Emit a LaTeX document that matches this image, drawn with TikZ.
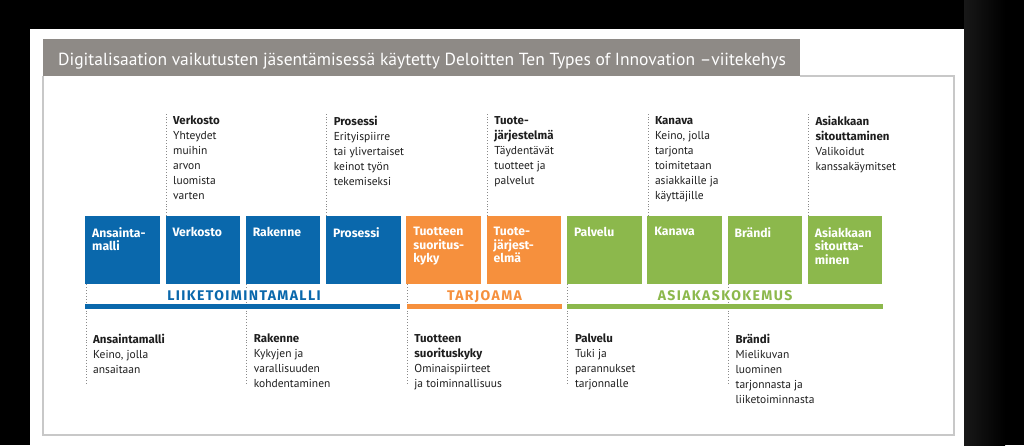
\documentclass[tikz,border=0pt]{standalone}
\usepackage{fontspec}
\setmainfont{PT Sans}
\newfontfamily\fira{Fira Sans}
\definecolor{dblue}{HTML}{0A68AC}
\definecolor{dorange}{HTML}{F6903D}
\definecolor{dgreen}{HTML}{8CB84C}
\definecolor{titlegray}{HTML}{8E8A86}
\definecolor{framegray}{HTML}{C8C8C8}
\definecolor{dotgray}{HTML}{8A8A8A}
\definecolor{txt}{HTML}{1E1E1E}
\newcommand{\hd}[1]{{\fira\bfseries #1}}
\begin{document}
\begin{tikzpicture}[x=1pt,y=-1pt,
  boxst/.style={draw=none,anchor=north west,minimum width=74.5pt,minimum height=68pt,inner sep=0pt},
  boxlbl/.style={anchor=north west,inner sep=0pt,align=left,text=white,font=\fontsize{12.2}{13.6}\selectfont\fira\bfseries},
  desc/.style={anchor=north west,inner sep=0pt,align=left,text=txt,font=\fontsize{11.5}{15}\selectfont},
  dotline/.style={draw=dotgray,dotted,line width=0.9pt},
  catlbl/.style={fill=white,inner sep=1.5pt,anchor=base,font=\fontsize{14}{16}\selectfont\fira\bfseries\addfontfeature{LetterSpace=10}},
  bar/.style={draw=none,anchor=north west,minimum height=5pt,inner sep=0pt}
]
\useasboundingbox (0,0) rectangle (1024,445);
% background
\fill[black] (0,0) rectangle (1024,445);
\shade[left color={rgb,255:red,24;green,24;blue,24}, right color=black] (964,0) rectangle (1005,445);
\fill[white] (30,29) rectangle (964,445);
% frame and title
\draw[framegray,line width=1.2pt] (43,76) -- (43,435) -- (954,435) -- (954,76) -- (800,76);
\node[fill=titlegray,anchor=north west,minimum width=757pt,minimum height=37pt,inner sep=0pt] (title) at (43,39) {};
\node[anchor=base west,inner sep=0pt,text=white,font=\fontsize{17.5}{20}\selectfont] (titletxt) at (58,65)
  {Digitalisaation vaikutusten jäsentämisessä käytetty Deloitten Ten Types of Innovation –viitekehys};
% boxes
\foreach \i/\c in {1/dblue,2/dblue,3/dblue,4/dblue,5/dorange,6/dorange,7/dgreen,8/dgreen,9/dgreen,10/dgreen}{
  \node[boxst,fill=\c] (b\i) at ({85+80.3*(\i-1)},216) {};
}
% dotted lines top
\foreach \i in {2,4,6,8,10}{
  \coordinate (t\i) at ({86+80.3*(\i-1)},113);
  \draw[dotline] ([xshift=1pt]b\i.north west) -- (t\i);
}
% dotted lines bottom
\foreach \i in {1,3,5,7,9}{
  \coordinate (u\i) at ({86+80.3*(\i-1)},385);
  \draw[dotline] ([xshift=1pt]b\i.south west) -- (u\i);
}
% box labels
\foreach \i/\t in {1/{Ansainta-\\malli},2/{Verkosto},3/{Rakenne},4/{Prosessi},5/{Tuotteen\\suoritus-\\kyky},
  6/{Tuote-\\järjest-\\elmä},7/{Palvelu},8/{Kanava},9/{Brändi},10/{Asiakkaan\\sitoutta-\\minen}}{
  \node[boxlbl] (l\i) at ([shift={(7,11)}]b\i.north west) {\t};
}
% category labels and bars
\node[catlbl,text=dblue] (cat1) at (244,300) {LIIKETOIMINTAMALLI};
\node[catlbl,text=dorange] (cat2) at (484.5,300) {TARJOAMA};
\node[catlbl,text=dgreen] (cat3) at (725,300) {ASIAKASKOKEMUS};
\node[bar,fill=dblue,minimum width=315pt] (bar1) at (85,304) {};
\node[bar,fill=dorange,minimum width=155pt] (bar2) at (407,304) {};
\node[bar,fill=dgreen,minimum width=316pt] (bar3) at (567,304) {};
% top descriptions
\node[desc] (d2) at (173,116) {\hd{Verkosto}\\Yhteydet\\muihin\\arvon\\luomista\\varten};
\node[desc] (d4) at (333.6,116) {\hd{Prosessi}\\Erityispiirre\\tai ylivertaiset\\keinot työn\\tekemiseksi};
\node[desc] (d6) at (494.2,116) {\hd{Tuote-}\\\hd{järjestelmä}\\Täydentävät\\tuotteet ja\\palvelut};
\node[desc] (d8) at (654.8,116) {\hd{Kanava}\\Keino, jolla\\tarjonta\\toimitetaan\\asiakkaille ja\\käyttäjille};
\node[desc] (d10) at (815.4,116) {\hd{Asiakkaan}\\\hd{sitouttaminen}\\Valikoidut\\kanssakäymitset};
% bottom descriptions
\node[desc] (d1) at (93,334) {\hd{Ansaintamalli}\\Keino, jolla\\ansaitaan};
\node[desc] (d3) at (253.6,334) {\hd{Rakenne}\\Kykyjen ja\\varallisuuden\\kohdentaminen};
\node[desc] (d5) at (414.2,334) {\hd{Tuotteen}\\\hd{suorituskyky}\\Ominaispiirteet\\ja toiminnallisuus};
\node[desc] (d7) at (574.8,334) {\hd{Palvelu}\\Tuki ja\\parannukset\\tarjonnalle};
\node[desc] (d9) at (735.4,334) {\hd{Brändi}\\Mielikuvan\\luominen\\tarjonnasta ja\\liiketoiminnasta};
\end{tikzpicture}
\end{document}
